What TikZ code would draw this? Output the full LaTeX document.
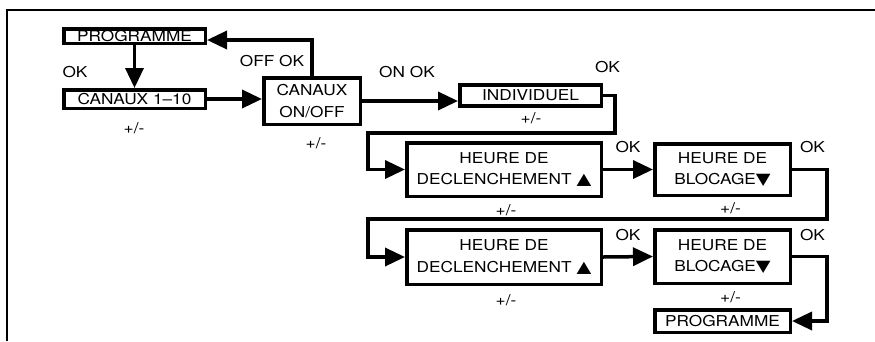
\documentclass[tikz,border=0pt]{standalone}
\usepackage{fontspec}
\setmainfont{TeX Gyre Heros}[FakeStretch=1.15]
\newfontfamily\symfont{DejaVu Sans}[FakeStretch=1.2]
\usetikzlibrary{arrows.meta}
\newcommand{\tup}{{\symfont\fontsize{16}{21.5}\selectfont ▲}}
\newcommand{\tdown}{{\symfont\fontsize{16}{21.5}\selectfont ▼}}
\begin{document}
\begin{tikzpicture}[x=1pt,y=-1pt,
  font=\fontsize{15}{21.5}\selectfont,
  box/.style={draw, line width=3.5pt, inner sep=1pt, align=center, anchor=center},
  conn/.style={line width=3.5pt, -{Triangle[length=20pt,width=18pt]}},
  lab/.style={inner sep=0pt, anchor=center}]
\useasboundingbox (0,0) rectangle (875,341);
\draw[line width=2pt] (7,341) -- (7,9.5) -- (875,9.5);

\node[box, minimum width=141.5pt, minimum height=14.5pt] (prog1) at (134.5,36) {PROGRAMME};
\node[box, minimum width=141.5pt, minimum height=18.5pt] (canaux) at (134.5,99) {CANAUX 1–10};
\node[box, minimum width=96.5pt, minimum height=46.5pt] (onoff) at (312,101) {CANAUX\\ON/OFF};
\node[box, minimum width=141.5pt, minimum height=21pt] (indiv) at (530.5,95.5) {INDIVIDUEL};
\node[box, minimum width=194.5pt, minimum height=53.5pt] (decl1) at (504,169.5) {HEURE DE\\DECLENCHEMENT \tup};
\node[box, minimum width=135.5pt, minimum height=51.5pt] (bloc1) at (722.5,169.5) {HEURE DE\\BLOCAGE\tdown};
\node[box, minimum width=194.5pt, minimum height=54.5pt] (decl2) at (504,257) {HEURE DE\\DECLENCHEMENT \tup};
\node[box, minimum width=135.5pt, minimum height=53.5pt] (bloc2) at (722.5,256.5) {HEURE DE\\BLOCAGE\tdown};
\node[box, minimum width=135.5pt, minimum height=22.5pt] (prog2) at (722.5,321) {PROGRAMME};

\node[lab] (l1) at (75,72.5) {OK};
\node[lab] (l2) at (134,128) {+/-};
\node[lab] (l3) at (272,61) {OFF OK};
\node[lab] (l4) at (316,143) {+/-};
\node[lab] (l5) at (407,72.5) {ON OK};
\node[lab] (l6) at (607.5,67.5) {OK};
\node[lab] (l7) at (531,118) {+/-};
\node[lab] (l8) at (628,147.5) {OK};
\node[lab] (l9) at (812.5,147.5) {OK};
\node[lab] (l10) at (506,210) {+/-};
\node[lab] (l11) at (730.5,208.5) {+/-};
\node[lab] (l12) at (628,235.5) {OK};
\node[lab] (l13) at (812.5,235.5) {OK};
\node[lab] (l14) at (506,300) {+/-};
\node[lab] (l15) at (730.5,297.5) {+/-};

\draw[conn] (prog1.south) -- (canaux.north);
\draw[conn] (canaux.east) -- (canaux.east -| onoff.west);
\draw[conn] (onoff.north) |- ([yshift=-4pt]prog1.east);
\draw[conn] (onoff.east) -- (onoff.east -| indiv.west);
\draw[conn] (indiv.east) -- ++(12,0) |- (368,133) |- (decl1.west);
\draw[conn] (decl1.east) -- (bloc1.west);
\draw[conn] (bloc1.east) -- ++(35,0) |- (368,219) |- (decl2.west);
\draw[conn] (decl2.east) -- (bloc2.west);
\draw[conn] (bloc2.east) -- ++(35,0) |- (prog2.east);
\end{tikzpicture}
\end{document}
